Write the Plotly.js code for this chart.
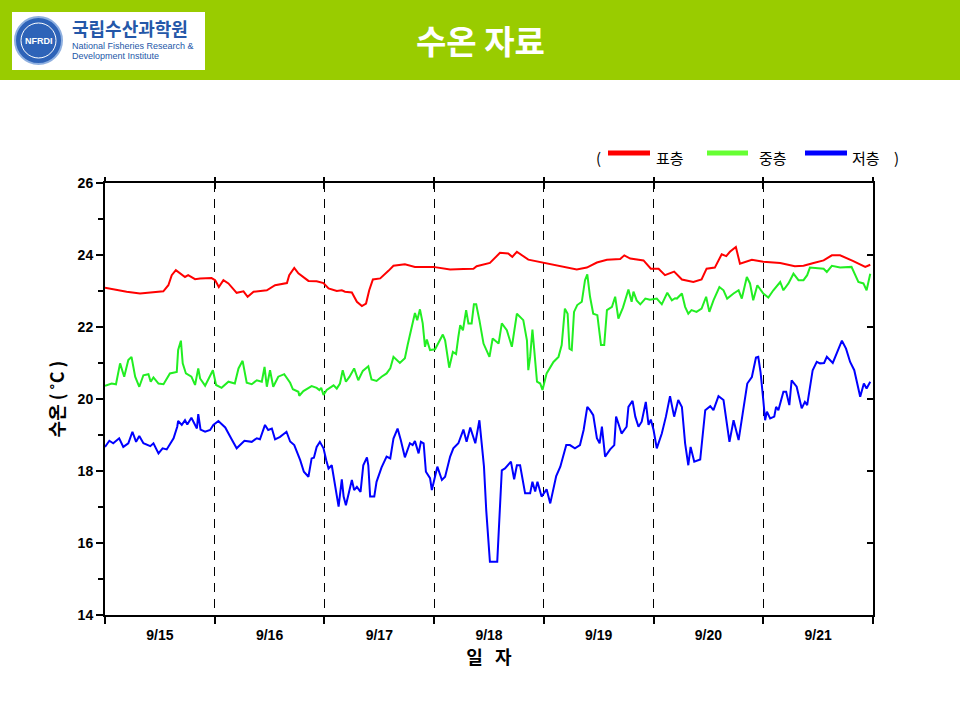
<!DOCTYPE html>
<html>
<head>
<meta charset="utf-8">
<script src="https://cdn.plot.ly/plotly-3.0.1.min.js"></script>
<style>
html,body{margin:0;padding:0;background:#fff;}
#chart{width:960px;height:720px;}
</style>
</head>
<body>
<div id="chart"></div>
<script>
// ---- data (hours since 9/15 00:00, water temperature °C) ----
const dayLabels = ["9/15","9/16","9/17","9/18","9/19","9/20","9/21"];
const dayCenters = [12,36,60,84,108,132,156];
const dayBounds = [0,24,48,72,96,120,144,168];
const yTicks = [14,16,18,20,22,24,26];
const seriesNames = ["표층","중층","저층"];

const surfHours = [0,2.55,4.74,7.66,10.6,12.76,13.86,14.6,15.5,16.4,17.5,18.2,19.7,20.8,23.3,24.1,24.9,25.9,27.0,28.8,30.3,31.2,32.5,35.4,37.2,39.8,40.3,41.4,42.3,44.5,46.3,47.8,48.9,50.7,51.8,52.5,54.0,55.1,56.2,57.1,57.8,58.6,60.2,62.0,63.1,65.6,67.8,71.8,75.5,78.4,80.6,81.3,84.2,86.4,88.2,89.1,90.1,92.6,95.9,99.6,103.2,105.4,107.6,109.8,112.7,113.6,114.9,117.8,119.4,121.1,122.5,124.5,126.2,128.7,130.5,131.6,133.4,134.9,135.9,136.7,138.0,138.9,141.5,144.0,147.7,150.9,152.8,155.0,157.2,159.0,160.8,163.7,166.3,167.4];
const surfTemp = [23.09,23.02,22.98,22.93,22.96,22.99,23.16,23.44,23.58,23.50,23.39,23.44,23.33,23.35,23.36,23.30,23.11,23.30,23.21,22.95,22.99,22.84,22.98,23.02,23.16,23.22,23.44,23.64,23.49,23.28,23.27,23.22,23.07,23.00,23.02,22.98,22.96,22.70,22.58,22.65,23.02,23.32,23.35,23.56,23.70,23.74,23.67,23.67,23.60,23.61,23.62,23.69,23.78,24.06,24.04,23.95,24.09,23.87,23.78,23.69,23.60,23.65,23.79,23.87,23.89,23.99,23.90,23.85,23.62,23.62,23.44,23.54,23.32,23.25,23.32,23.62,23.65,24.02,23.97,24.09,24.22,23.76,23.87,23.81,23.78,23.69,23.70,23.78,23.85,23.99,23.99,23.83,23.67,23.73];

const midHours = [0,1.46,2.4,3.3,4.2,5.1,5.8,6.6,7.5,8.4,9.5,10.0,10.6,11.7,12.8,14.2,15.7,16.0,16.6,17.0,17.7,18.9,19.7,20.4,20.8,21.9,23.6,24.3,25.5,27.0,28.4,29.2,30.1,31.0,32.1,33.2,34.3,34.9,35.4,36.1,36.8,37.9,39.2,40.5,41.1,42.3,42.5,43.4,45.2,46.3,46.9,47.3,47.8,48.5,50.0,50.7,51.4,52.0,52.7,53.5,54.5,55.4,56.4,57.6,58.3,59.4,60.5,61.6,62.4,63.1,64.5,65.6,66.2,66.6,67.3,67.8,68.3,68.9,69.5,70.0,70.4,71.1,72.2,73.2,73.9,74.4,74.9,75.3,76.1,76.8,77.3,77.7,78.3,79.0,79.5,80.2,80.7,81.2,81.9,82.8,84.1,84.8,86.1,86.8,87.9,89.0,90.1,91.5,92.3,92.6,93.0,93.5,93.9,94.5,95.2,95.7,96.6,98.1,99.2,99.9,100.6,101.2,101.6,102.1,102.6,103.3,104.3,105.0,105.5,106.1,106.8,107.7,108.5,109.2,109.8,110.9,111.6,112.3,113.3,114.5,115.2,115.6,116.3,117.1,118.2,119.2,120.7,121.8,123.0,124.0,124.7,125.1,126.2,126.9,127.6,128.3,129.4,130.5,131.5,132.2,133.1,134.4,135.3,136.1,137.5,138.6,139.3,140.4,141.1,141.8,142.7,144.0,145.1,146.2,147.7,148.4,149.5,150.6,151.7,152.8,153.6,154.2,157.2,157.9,159.0,160.8,163.3,164.8,165.9,166.6,167.4];
const midTemp = [20.37,20.43,20.41,20.99,20.62,21.08,21.17,20.62,20.34,20.66,20.69,20.48,20.60,20.43,20.41,20.71,20.75,21.36,21.62,20.99,20.71,20.62,20.39,20.85,20.57,20.37,20.80,20.39,20.31,20.48,20.43,20.85,21.06,20.45,20.41,20.52,20.48,20.89,20.34,20.80,20.34,20.62,20.69,20.45,20.27,20.20,20.09,20.22,20.36,20.31,20.25,20.31,20.11,20.25,20.38,20.29,20.43,20.80,20.48,20.62,20.85,20.52,20.78,20.91,20.54,20.50,20.62,20.71,20.85,21.17,21.00,21.13,21.50,21.73,22.10,22.39,22.19,22.49,22.10,21.45,21.65,21.36,21.38,21.63,21.79,21.63,21.19,20.87,21.31,21.25,21.73,22.05,21.91,22.47,22.10,22.10,22.63,22.63,22.19,21.54,21.17,21.68,21.54,22.10,21.91,21.45,22.37,22.19,21.63,20.80,21.17,21.93,21.36,20.48,20.43,20.25,20.71,21.03,21.17,21.50,22.51,22.37,21.40,21.36,22.42,22.61,22.70,23.30,23.46,22.84,22.37,22.33,21.50,21.50,22.47,22.56,22.84,22.23,22.54,23.04,22.70,22.98,22.74,22.63,22.79,22.76,22.79,22.63,22.95,22.74,22.80,22.79,22.93,22.56,22.37,22.47,22.42,22.51,22.84,22.42,22.74,23.11,23.02,22.79,22.93,23.02,22.79,23.39,23.21,22.74,23.16,22.93,22.82,23.02,23.25,23.02,23.21,23.48,23.30,23.30,23.44,23.65,23.62,23.53,23.70,23.65,23.67,23.25,23.21,23.02,23.48];

const botHours = [0,0.95,1.8,3.1,4.0,5.1,6.0,6.8,7.5,8.4,9.9,10.6,11.7,12.6,13.5,15.0,15.8,16.0,16.8,17.5,18.0,18.9,20.1,20.4,20.9,21.9,23.0,23.7,24.8,26.3,27.7,28.8,30.5,32.1,33.2,33.9,35.0,35.7,36.5,37.2,38.3,39.7,40.5,41.4,42.7,43.5,44.5,45.2,45.7,46.3,47.0,47.8,48.4,48.9,49.6,50.3,51.1,51.8,52.2,52.7,54.0,54.5,55.1,55.9,56.5,57.3,57.6,58.0,58.9,59.4,60.5,61.6,62.4,63.1,64.0,64.7,65.6,66.7,67.3,67.8,68.6,69.1,69.7,70.2,71.1,71.5,72.2,72.7,73.7,74.4,75.5,76.2,77.3,78.4,79.1,79.9,81.0,81.9,82.4,82.9,83.4,83.9,84.2,85.8,86.4,86.8,87.5,88.8,89.5,90.1,90.8,91.9,93.0,93.5,94.1,94.6,95.5,96.6,97.4,98.7,99.6,100.3,100.9,101.7,102.8,103.9,104.7,105.5,106.1,106.8,107.6,108.2,108.7,109.4,110.5,111.4,111.8,112.3,113.0,114.1,114.5,115.4,116.0,116.7,117.4,118.3,118.9,119.4,120.0,120.7,121.8,122.7,123.6,124.5,125.4,126.2,126.9,127.6,128.1,128.9,130.2,131.3,132.4,133.1,134.2,135.3,135.9,136.6,137.5,138.6,139.5,140.5,141.5,142.4,142.9,143.4,144.0,144.4,144.8,145.5,146.4,146.8,147.3,148.4,149.0,149.7,150.2,151.3,152.4,153.1,153.6,154.8,155.7,156.4,157.3,157.9,159.2,160.1,161.2,162.1,163.0,163.9,164.6,165.2,166.0,166.6,167.4];
const botTemp = [18.67,18.84,18.77,18.91,18.67,18.77,19.09,18.81,18.97,18.77,18.69,18.77,18.49,18.63,18.60,18.91,19.23,19.39,19.28,19.41,19.29,19.48,19.18,19.58,19.15,19.09,19.14,19.28,19.39,19.21,18.88,18.63,18.84,18.81,18.91,18.88,19.28,19.14,19.18,18.88,18.95,19.09,18.82,18.72,18.30,17.98,17.84,18.35,18.37,18.67,18.81,18.63,18.30,18.07,18.16,17.66,17.01,17.77,17.29,17.05,17.75,17.47,17.56,17.42,18.16,18.38,18.16,17.29,17.29,17.70,18.10,18.40,18.35,18.90,19.18,18.86,18.38,18.77,18.72,18.83,18.49,18.81,18.77,17.98,17.80,17.47,17.89,18.12,17.75,17.84,18.40,18.63,18.77,19.15,18.81,19.21,18.77,19.41,18.77,18.12,16.90,15.90,15.48,15.48,16.92,18.02,18.07,18.26,17.77,18.16,18.16,17.38,17.38,17.70,17.43,17.70,17.29,17.49,17.10,17.86,18.12,18.49,18.72,18.72,18.63,18.72,19.14,19.78,19.69,19.55,18.91,18.77,19.23,18.40,18.60,18.72,19.51,19.32,19.04,19.23,19.78,19.95,19.51,19.23,19.37,19.92,19.28,19.43,19.14,18.63,19.04,19.51,20.08,19.51,19.97,19.78,18.77,18.16,18.67,18.26,18.32,19.69,19.80,19.69,20.08,19.97,19.41,18.81,19.41,18.86,19.60,20.43,20.61,21.15,21.17,20.75,19.97,19.41,19.65,19.46,19.51,19.78,19.69,20.20,20.20,19.83,20.52,20.34,19.74,19.92,19.83,20.80,21.03,20.99,21.00,21.17,21.00,21.26,21.62,21.40,21.03,20.80,20.43,20.06,20.43,20.29,20.48];

// ---- styles ----
const lineColors = ["#FF0000","#22EE22","#0000FF"];
const legendColors = ["#FF0000","#66FF33","#0000FF"];
const latin = "Liberation Sans, Arial, sans-serif";
const kor = "Noto Sans CJK KR, sans-serif";

// paper coordinate helpers (plot area 105..873 x, 183..615 y)
const L = 105, R = 873, T = 183, B = 615;
const px = v => (v - L) / (R - L);
const py = v => (B - v) / (B - T);

const traces = [
  {x: surfHours, y: surfTemp, name: seriesNames[0]},
  {x: midHours,  y: midTemp,  name: seriesNames[1]},
  {x: botHours,  y: botTemp,  name: seriesNames[2]}
].map((t, i) => Object.assign(t, {
  type: "scatter", mode: "lines", showlegend: false,
  line: {color: lineColors[i], width: 2},
  xaxis: "x", yaxis: "y", hoverinfo: "skip"
}));

const shapes = [
  // header band
  {type: "rect", xref: "paper", yref: "paper", x0: px(-5), x1: px(965), y0: py(80), y1: py(-5),
   fillcolor: "#99CC00", line: {width: 0}, layer: "below"},
  // logo box
  {type: "rect", xref: "paper", yref: "paper", x0: px(12), x1: px(205), y0: py(70), y1: py(12),
   fillcolor: "#FFFFFF", line: {width: 0}},
  {type: "circle", xref: "paper", yref: "paper", x0: px(15), x1: px(62), y0: py(64), y1: py(17),
   fillcolor: "#2E63B8", line: {color: "#8FB0E0", width: 2}},
  {type: "circle", xref: "paper", yref: "paper", x0: px(21), x1: px(56), y0: py(58), y1: py(23),
   fillcolor: "rgba(0,0,0,0)", line: {color: "#FFFFFF", width: 1}}
];

// legend swatches
const swX = [[608,650],[707,748],[805,847]];
swX.forEach((s, i) => shapes.push({type: "line", xref: "paper", yref: "paper",
  x0: px(s[0]), x1: px(s[1]), y0: py(153), y1: py(153),
  line: {color: legendColors[i], width: 5}}));

function ann(text, x, y, font, xanchor) {
  return {text: text, xref: "paper", yref: "paper", x: px(x), y: py(y),
          xanchor: xanchor || "center", yanchor: "middle", showarrow: false, font: font};
}

const annotations = [
  ann("수온 자료", 480, 40, {family: kor, size: 33, color: "#FFFFFF", weight: "bold"}),
  ann("NFRDI", 38.5, 41, {family: latin, size: 9, color: "#FFFFFF", weight: "bold"}),
  ann("국립수산과학원", 70, 28, {family: kor, size: 18, color: "#2457A8", weight: "bold"}, "left"),
  ann("National Fisheries Research &amp;", 70, 46, {family: latin, size: 9, color: "#2457A8"}, "left"),
  ann("Development Institute", 70, 56, {family: latin, size: 9, color: "#2457A8"}, "left"),
  ann("(", 598, 157, {family: kor, size: 15, color: "#000"}),
  ann(")", 896, 157, {family: kor, size: 15, color: "#000"})
];
const legTextX = [670, 773, 866];
seriesNames.forEach((n, i) => annotations.push(ann(n, legTextX[i], 157, {family: kor, size: 15, color: "#000"})));

const axisFontBold = {family: latin, size: 14, color: "#000", weight: "bold"};

const layout = {
  width: 960, height: 720,
  margin: {l: L, r: 960 - R, t: T, b: 720 - B},
  paper_bgcolor: "#FFFFFF", plot_bgcolor: "#FFFFFF",
  showlegend: false,
  xaxis: {
    range: [0, 168], tickmode: "array", tickvals: dayCenters, ticktext: dayLabels,
    ticks: "", ticklabelstandoff: 6, tickfont: axisFontBold,
    showline: true, linecolor: "#000", linewidth: 2, showgrid: false, zeroline: false,
    minor: {tickmode: "array", tickvals: dayBounds, ticks: "outside", ticklen: 7, tickwidth: 2, tickcolor: "#000",
            showgrid: true, gridcolor: "#000", gridwidth: 1, griddash: "9px,7px"},
    title: {text: "일   자", standoff: 10, font: {family: kor, size: 18, color: "#000", weight: "bold"}},
    fixedrange: true
  },
  xaxis2: {
    overlaying: "x", side: "top", anchor: "y", range: [0, 168], tickmode: "array", tickvals: dayBounds,
    ticks: "inside", ticklen: 6, tickwidth: 2, tickcolor: "#000", showticklabels: false,
    showline: true, linecolor: "#000", linewidth: 2, showgrid: false, zeroline: false
  },
  xaxis3: {
    overlaying: "x", side: "top", anchor: "y", range: [0, 168], tickmode: "array", tickvals: dayBounds,
    ticks: "outside", ticklen: 5, tickwidth: 2, tickcolor: "#000", showticklabels: false,
    showline: false, showgrid: false, zeroline: false
  },
  yaxis: {
    range: [14, 26], tickmode: "array", tickvals: yTicks, ticks: "outside", ticklen: 7, tickwidth: 2, tickcolor: "#000",
    tickfont: axisFontBold, showline: true, linecolor: "#000", linewidth: 2, showgrid: false, zeroline: false,
    minor: {dtick: 1, ticks: "outside", ticklen: 5, tickwidth: 2, tickcolor: "#000", showgrid: false},
    title: {text: "수온 ( ˚C )", standoff: 8, font: {family: kor, size: 18, color: "#000", weight: "bold"}},
    fixedrange: true
  },
  yaxis2: {
    overlaying: "y", side: "right", anchor: "x", range: [14, 26], tickmode: "array", tickvals: yTicks,
    ticks: "inside", ticklen: 6, tickwidth: 2, tickcolor: "#000", showticklabels: false,
    showline: true, linecolor: "#000", linewidth: 2, showgrid: false, zeroline: false
  },
  shapes: shapes,
  annotations: annotations
};

// empty helper traces so the overlay axes are drawn
const axisTraces = [
  {type: "scatter", x: [], y: [], xaxis: "x2", yaxis: "y", showlegend: false, hoverinfo: "skip"},
  {type: "scatter", x: [], y: [], xaxis: "x3", yaxis: "y", showlegend: false, hoverinfo: "skip"},
  {type: "scatter", x: [], y: [], xaxis: "x", yaxis: "y2", showlegend: false, hoverinfo: "skip"}
];

Plotly.newPlot("chart", axisTraces.concat(traces), layout, {staticPlot: true, displayModeBar: false});
</script>
</body>
</html>
